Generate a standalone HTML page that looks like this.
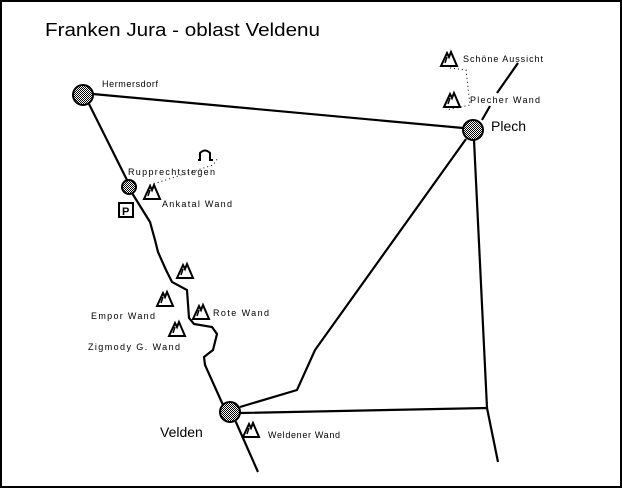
<!DOCTYPE html>
<html><head><style>body{margin:0;background:#fff}svg{display:block}</style></head><body>
<svg width="622" height="488" viewBox="0 0 622 488" xmlns="http://www.w3.org/2000/svg" font-family="Liberation Sans, sans-serif">
<defs>
<pattern id="hatch" width="2" height="2" patternUnits="userSpaceOnUse"><rect width="2" height="2" fill="#fff"/><rect width="1" height="1" fill="#000"/><rect x="1" y="1" width="1" height="1" fill="#000"/></pattern>
<g id="mtn"><path d="M-8,6 L-2,-7 L0,-3 L2,-8 L8,6 Z" fill="#fff" stroke="#000" stroke-width="2"/><path d="M-4,3 L-2,-3" stroke="#000" stroke-width="1.5"/></g>
</defs>
<rect x="1" y="1" width="620" height="486" fill="#fff" stroke="#000" stroke-width="2"/>
<text x="45" y="36" font-size="18" textLength="275" lengthAdjust="spacingAndGlyphs">Franken Jura - oblast Veldenu</text>
<g fill="none" stroke="#000" stroke-width="2.2">
<path d="M93,94 L463,128"/>
<path d="M89,104 L127,180"/>
<path d="M132,193 L150,222 L155,240 L158,252 L166,270 L172,282 L187,290 L189,318 L194,324 L212,327 L217,334 L213,350 L204,357 L205,365 L223,405"/>
<path d="M235,420 L258,472"/>
<path d="M240,407 L297,390 L315,350 L466,139"/>
<path d="M240,413 L487,408 L498,462"/>
<path d="M474,140 L487,408"/>
<path d="M518,63 L497,93"/>
<path d="M490,106 L482,120"/>
</g>
<g fill="url(#hatch)" stroke="#000" stroke-width="2">
<circle cx="83" cy="95" r="10"/>
<circle cx="473" cy="130" r="10"/>
<circle cx="230" cy="412" r="10"/>
<circle cx="129" cy="187" r="7"/>
</g>
<g fill="none" stroke="#000" stroke-width="1" stroke-dasharray="1,3">
<path d="M150,185 L213,165 L218,158"/>
<path d="M450,68 L466,70 L470,105 L446,110"/>
</g>
<rect x="119" y="203" width="14" height="14" fill="#fff" stroke="#000" stroke-width="2"/>
<text x="122" y="215" font-size="11" font-weight="bold">P</text>
<path d="M198,160 L200,160 L200,153 Q205,148 210,153 L210,160 L213,160" fill="none" stroke="#000" stroke-width="2"/>
<use href="#mtn" x="449" y="60"/>
<use href="#mtn" x="452" y="101"/>
<use href="#mtn" x="152" y="193"/>
<use href="#mtn" x="185" y="272"/>
<use href="#mtn" x="165" y="300"/>
<use href="#mtn" x="201" y="313"/>
<use href="#mtn" x="177" y="330"/>
<use href="#mtn" x="251" y="431"/>
<g font-size="9">
<text x="102" y="87" textLength="56">Hermersdorf</text>
<text x="128" y="175" textLength="87">Rupprechtstegen</text>
<text x="162" y="207" textLength="70">Ankatal Wand</text>
<text x="463" y="62" textLength="80">Schöne Aussicht</text>
<text x="470" y="103" textLength="70">Plecher Wand</text>
<text x="91" y="319" textLength="64">Empor Wand</text>
<text x="213" y="316" textLength="56">Rote Wand</text>
<text x="88" y="350" textLength="92">Zigmody G. Wand</text>
<text x="268" y="438" textLength="72">Weldener Wand</text>
</g>
<text x="491" y="131" font-size="14">Plech</text>
<text x="160" y="437" font-size="14">Velden</text>
</svg>
</body></html>
